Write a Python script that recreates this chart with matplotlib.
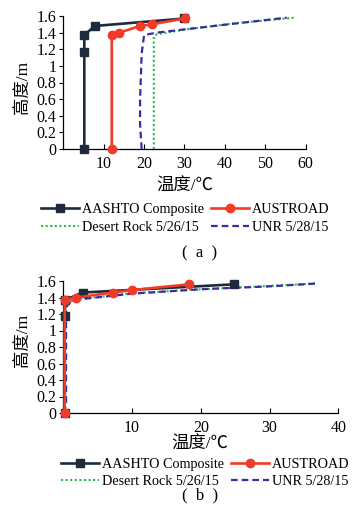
import matplotlib
matplotlib.use("Agg")
import matplotlib.pyplot as plt

plt.rcParams['font.family'] = ['Liberation Serif', 'Noto Sans CJK SC']

# ---- panel (a) data ----
a_aashto_x = [5.2, 5.2, 5.2, 7.8, 30.0]
a_aashto_y = [0.0, 1.17, 1.37, 1.48, 1.57]
a_aus_x = [12.0, 12.0, 13.9, 19.0, 21.9, 30.1]
a_aus_y = [0.0, 1.37, 1.40, 1.48, 1.50, 1.57]
a_desert_x = [22.4, 22.4, 23.1, 30.5, 42.0, 57.4]
a_desert_y = [0.0, 1.35, 1.38, 1.44, 1.51, 1.58]
a_unr_x = [19.4, 19.0, 19.0, 19.4, 20.0, 23.1, 33.8, 46.2, 55.3]
a_unr_y = [0.0, 0.3, 0.59, 1.15, 1.37, 1.40, 1.46, 1.53, 1.58]

# ---- panel (b) data ----
b_aashto_x = [0.2, 0.2, 0.3, 2.8, 24.9]
b_aashto_y = [0.0, 1.17, 1.37, 1.46, 1.56]
b_aus_x = [0.2, 0.2, 1.9, 7.2, 10.0, 18.3]
b_aus_y = [0.0, 1.37, 1.40, 1.46, 1.49, 1.56]
b_desert_x = [0.3, 0.3, 0.6, 2.0, 10.0, 20.0, 30.0, 36.6]
b_desert_y = [0.0, 1.25, 1.34, 1.38, 1.45, 1.50, 1.54, 1.57]
b_unr_x = [0.0, 0.4, 0.4, 0.7, 2.0, 10.0, 20.0, 30.0, 36.6]
b_unr_y = [0.0, 0.1, 1.25, 1.33, 1.375, 1.447, 1.50, 1.535, 1.568]

yticks = [0, 0.2, 0.4, 0.6, 0.8, 1.0, 1.2, 1.4, 1.6]
ytick_labels = ['0', '0.2', '0.4', '0.6', '0.8', '1', '1.2', '1.4', '1.6']
a_xticks = [10, 20, 30, 40, 50, 60]
b_xticks = [10, 20, 30, 40]

labels = ['AASHTO Composite', 'AUSTROAD', 'Desert Rock 5/26/15', 'UNR 5/28/15']
c_aashto = '#1e2b3c'
c_aus = '#f23a28'
c_desert = '#2bb84a'
c_unr = '#3b2c9a'

fig = plt.figure(figsize=(3.54, 5.12), dpi=100)
W, H = 354, 512

def make_ax(l, r, t, b):
    return fig.add_axes([l / W, 1 - b / H, (r - l) / W, (b - t) / H])

def draw(ax, d, xlim, xticks):
    (ax1x, ax1y), (au_x, au_y), (de_x, de_y), (un_x, un_y) = d
    h1, = ax.plot(ax1x, ax1y, color=c_aashto, lw=1.9, marker='s', ms=5.8, clip_on=False, zorder=5)
    h2, = ax.plot(au_x, au_y, color=c_aus, lw=1.9, marker='o', ms=6, clip_on=False, zorder=6)
    h3, = ax.plot(de_x, de_y, color=c_desert, lw=1.5, ls=(0, (1, 1.2)), clip_on=False, zorder=3)
    h4, = ax.plot(un_x, un_y, color=c_unr, lw=1.6, ls=(0, (3, 1.8)), clip_on=False, zorder=4)
    ax.set_xlim(*xlim)
    ax.set_ylim(0, 1.6)
    ax.set_xticks(xticks)
    ax.set_xticklabels([str(v) for v in xticks], fontsize=11.5)
    ax.set_yticks(yticks)
    ax.set_yticklabels(ytick_labels, fontsize=11.5)
    ax.tick_params(axis='x', direction='in', length=3.5, width=0.8, pad=5)
    ax.tick_params(axis='y', direction='out', length=3, width=0.8, pad=2)
    for s in ['top', 'right']:
        ax.spines[s].set_visible(False)
    for s in ['left', 'bottom']:
        ax.spines[s].set_linewidth(0.9)
    ax.set_facecolor('none')
    return [h1, h2, h3, h4]

def legend(ax, hs, cx, cy, fs):
    order = [0, 2, 1, 3]
    ax.legend([hs[i] for i in order], [labels[i] for i in order], ncol=2, loc='center',
              bbox_to_anchor=(cx / W, 1 - cy / H), bbox_transform=fig.transFigure,
              frameon=False, fontsize=fs, handlelength=2.7, handletextpad=0.2,
              columnspacing=0.5, labelspacing=0.3, borderpad=0, borderaxespad=0)

ax_a = make_ax(63.3, 305.7, 16, 149)
hs = draw(ax_a, [(a_aashto_x, a_aashto_y), (a_aus_x, a_aus_y), (a_desert_x, a_desert_y), (a_unr_x, a_unr_y)], (0, 60), a_xticks)
fig.text(185 / W, 1 - 187 / H, '温度/℃', ha='center', va='center', fontsize=12.5)
fig.text(23 / W, 1 - 87 / H, '高度/m', ha='center', va='center', rotation=90, fontsize=12.5)
legend(ax_a, hs, (42 + 328) / 2, 218.5, 10.2)
fig.text(200 / W, 1 - 253 / H, '(  a  )', ha='center', va='center', fontsize=12)

ax_b = make_ax(63.3, 338.3, 281, 413)
hs = draw(ax_b, [(b_aashto_x, b_aashto_y), (b_aus_x, b_aus_y), (b_desert_x, b_desert_y), (b_unr_x, b_unr_y)], (0, 40), b_xticks)
fig.text(200 / W, 1 - 445 / H, '温度/℃', ha='center', va='center', fontsize=12.5)
fig.text(23 / W, 1 - 340 / H, '高度/m', ha='center', va='center', rotation=90, fontsize=12.5)
legend(ax_b, hs, (58 + 352) / 2, 473, 10.2)
fig.text(200 / W, 1 - 495 / H, '(  b  )', ha='center', va='center', fontsize=12)

fig.savefig('out.png', dpi=100)
